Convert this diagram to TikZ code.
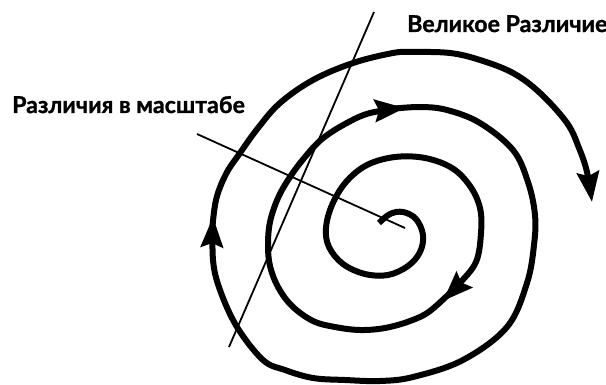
\documentclass[tikz,border=0pt]{standalone}
\usepackage{fontspec}
\setmainfont{Lato}[BoldFeatures={FakeBold=1.2}]
\usepackage{tikz}
\usetikzlibrary{arrows.meta}

\begin{document}
\begin{tikzpicture}[
    x=1pt, y=-1pt,
    bigtext/.style={anchor=base west, inner sep=0pt, font=\fontsize{23.2}{28}\selectfont\bfseries},
    coil/.style={line width=6pt, -{Stealth[length=30pt,width=22pt,inset=4pt]}},
    guide/.style={line width=1.8pt}
]
    \useasboundingbox (0,0) rectangle (606,385);

    \node[bigtext] (big) at (407,32) {Великое Различие};
    \node[bigtext] (scales) at (12,113) {Различия в масштабе};

    \coordinate (cut top) at (374,12);
    \coordinate (cut bottom) at (229,347);
    \coordinate (lead start) at (197,134);
    \coordinate (lead end) at (405,228);

    \draw[guide] (cut top) -- (cut bottom);
    \draw[guide] (lead start) -- (lead end);

    \draw[coil] plot[smooth, tension=0.6] coordinates {(379,223) (390,214) (403,212) (416,219) (423,235) (420,252) (408,266) (388,275) (365,274) (343,264) (329,247) (326,228) (332,205) (346,182) (367,165) (395,157) (425,158) (452,168) (470,186) (480,208) (481,233) (476,262) (459,284) (443,301)};
    \draw[coil] plot[smooth, tension=0.6] coordinates {(456,287) (430,311) (410,321) (385,328) (360,330) (335,327) (313,321) (292,306) (278,287) (270,266) (268,245) (270,222) (278,198) (290,177) (305,157) (322,139) (345,124) (370,113) (405,108)};
    \draw[coil] plot[smooth, tension=0.6] coordinates {(390,109) (420,107) (447,110) (480,123) (513,150) (528,182) (535,215) (534,245) (527,283) (507,327) (463,360) (413,377) (380,381) (345,380) (313,378) (285,370) (263,360) (237,327) (220,290) (213,260) (213,217)};
    \draw[coil] plot[smooth, tension=0.6] coordinates {(212,232) (216,200) (226,174) (240,153) (258,128) (280,103) (313,80) (353,63) (393,53) (413,52) (450,53) (480,60) (513,73) (540,93) (567,123) (579,148) (587,172) (592,202)};
\end{tikzpicture}
\end{document}
